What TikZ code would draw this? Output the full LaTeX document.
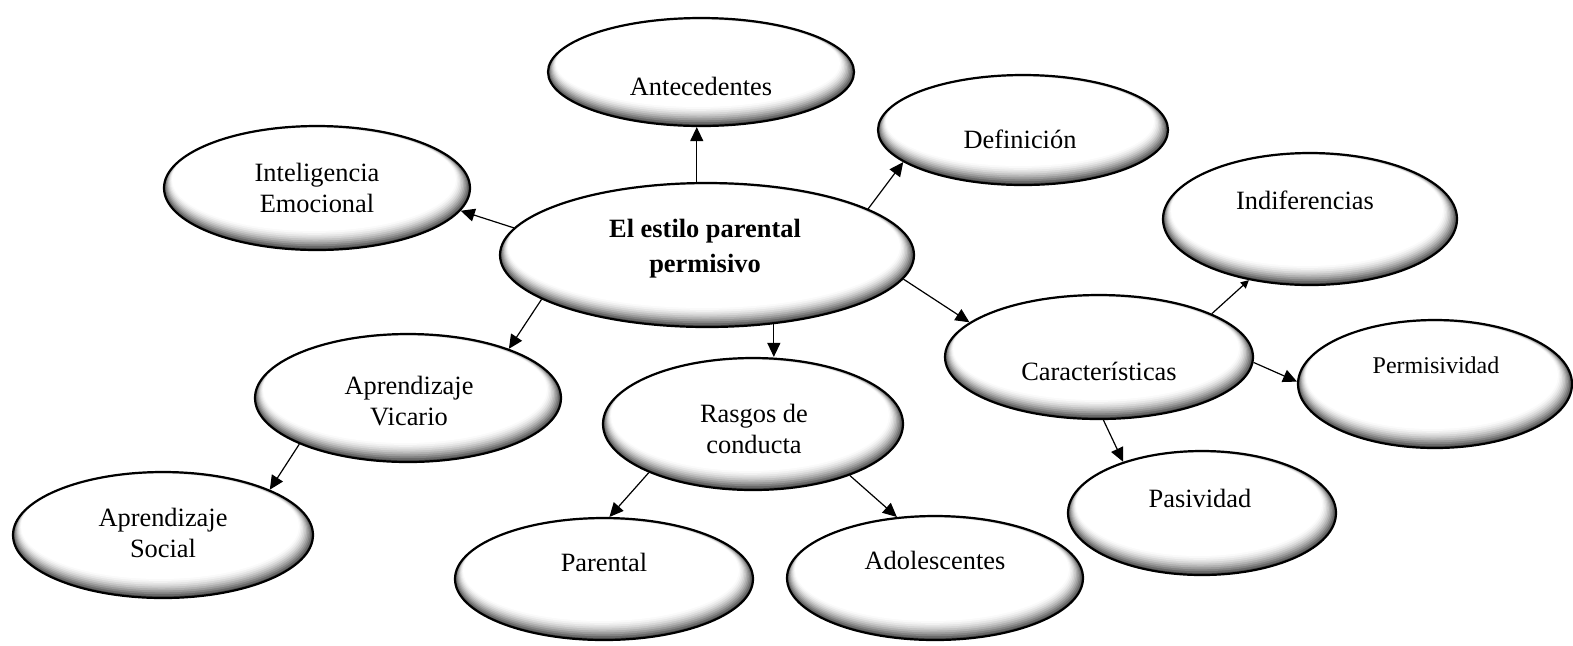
\documentclass[tikz,border=0pt]{standalone}
\usepackage{fontspec}
\setmainfont{Liberation Serif}
\usetikzlibrary{arrows.meta,shapes.geometric}
\newcommand\bub[5]{%
  \foreach \i in {0,...,10}{%
    \pgfmathsetmacro\gv{70*(1-\i/10)^1.6}%
    \fill[black!\gv] (#2-0.3*\i,#3-0.85*\i) ellipse [x radius=(#4-1.1*\i)*0.5pt, y radius=(#5-1.05*\i)*0.5pt];
  }
  \node[bubble, minimum width=#4 pt, minimum height=#5 pt] (#1) at (#2,#3) {};
}
\tikzset{
  bubble/.style={ellipse, draw=black, line width=1.1pt, inner sep=0pt},
  lbl/.style={align=center, font=\fontsize{13.2}{15.5}\selectfont, inner sep=0pt},
  lblb/.style={align=center, font=\fontsize{13.2}{17.5}\selectfont\bfseries, inner sep=0pt},
  arr/.style={line width=0.6pt, -{Triangle[length=7pt,width=6.5pt]}},
  arrs/.style={line width=0.6pt, -{Triangle[length=4pt,width=4pt]}},
}
\begin{document}
\begin{tikzpicture}[x=0.5pt,y=-0.5pt]
\useasboundingbox (0,0) rectangle (1573,645);
\bub{ant}{701}{72}{153}{54}
\bub{def}{1023}{130}{145}{55}
\bub{int}{317}{188}{153}{62}
\bub{c}{707}{255}{207}{72}
\bub{ind}{1310}{219}{147}{66}
\bub{per}{1435}{384}{137}{64}
\bub{car}{1099}{357}{154}{62}
\bub{pas}{1202}{513}{134}{62}
\bub{vic}{408}{398}{153}{64}
\bub{ras}{753}{424}{150}{66}
\bub{soc}{163}{535}{150}{63}
\bub{par}{604}{579}{149}{61}
\bub{ado}{935}{578}{148}{62}

\node[lbl] (ant-t) at (701,86) {Antecedentes};
\node[lbl] (def-t) at (1020,139) {Definición};
\node[lbl] (int-t) at (317,188) {Inteligencia\\Emocional};
\node[lblb] (c-t) at (705,249) {El estilo parental\\permisivo};
\node[lbl] (ind-t) at (1305,200) {Indiferencias};
\node[lbl, font=\fontsize{12}{14}\selectfont] (per-t) at (1436,365) {Permisividad};
\node[lbl] (car-t) at (1099,371) {Características};
\node[lbl] (pas-t) at (1200,498) {Pasividad};
\node[lbl] (vic-t) at (409,401) {Aprendizaje\\Vicario};
\node[lbl] (ras-t) at (754,429) {Rasgos de\\conducta};
\node[lbl] (soc-t) at (163,533) {Aprendizaje\\Social};
\node[lbl] (par-t) at (604,562) {Parental};
\node[lbl] (ado-t) at (935,560) {Adolescentes};

\draw[arr] (c.98) -- (c.98 |- ant.south);
\draw[arr] (c.16) -- (def.195);
\draw[arr] (c.172) -- (int.-9);
\draw[arr] (c.195) -- (vic.26);
\draw[arr] (c.-46) -- (c.-46 |- ras.north);
\draw[arr] (c.-7) -- (car.165);
\draw[arrs] (car.21) -- (ind.225);
\draw[arr] (car.-2) -- (per.179);
\draw[arr] (car.-86) -- (pas.147);
\draw[arr] (vic.203) -- (soc.23);
\draw[arr] (ras.205) -- (par.85);
\draw[arr] (ras.-28) -- (ado.122);
\end{tikzpicture}
\end{document}
